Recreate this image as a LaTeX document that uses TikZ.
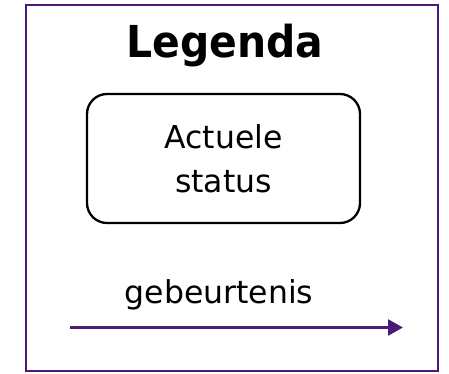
\documentclass[tikz,border=0pt]{standalone}
\usepackage{fontspec}
\setmainfont{DejaVu Sans}
\newfontfamily\titlefont{DejaVu Sans}[FakeStretch=0.93]
\usetikzlibrary{arrows.meta}
\definecolor{evpurple}{RGB}{75,26,120}
\tikzset{
  frame/.style={draw=evpurple, line width=2.6pt},
  statebox/.style={draw=black, line width=2.3pt, rounded corners=20pt, minimum width=273pt, minimum height=129pt, align=center, inner sep=0pt, font=\fontsize{31.5}{44}\selectfont},
  titletext/.style={anchor=base, font=\titlefont\bfseries\fontsize{44}{50}\selectfont, inner sep=0pt},
  labeltext/.style={anchor=base, font=\fontsize{31.5}{40}\selectfont, inner sep=0pt},
  evarrow/.style={draw=evpurple, line width=2.6pt, -{Triangle[length=15pt,width=16pt]}}
}
\begin{document}
\begin{tikzpicture}[x=1pt,y=-1pt]
\useasboundingbox (0,0) rectangle (449,374);
\draw[frame] (26,5) rectangle (438,371);
\node[titletext] (title) at (225,58) {Legenda};
\node[statebox] (state) at (223.5,158.5) {Actuele\\status};
\node[labeltext] (evlabel) at (219,303) {gebeurtenis};
\coordinate (a0) at (70,327.5);
\coordinate (a1) at (403,327.5);
\draw[evarrow] (a0) -- (a1);
\end{tikzpicture}
\end{document}
